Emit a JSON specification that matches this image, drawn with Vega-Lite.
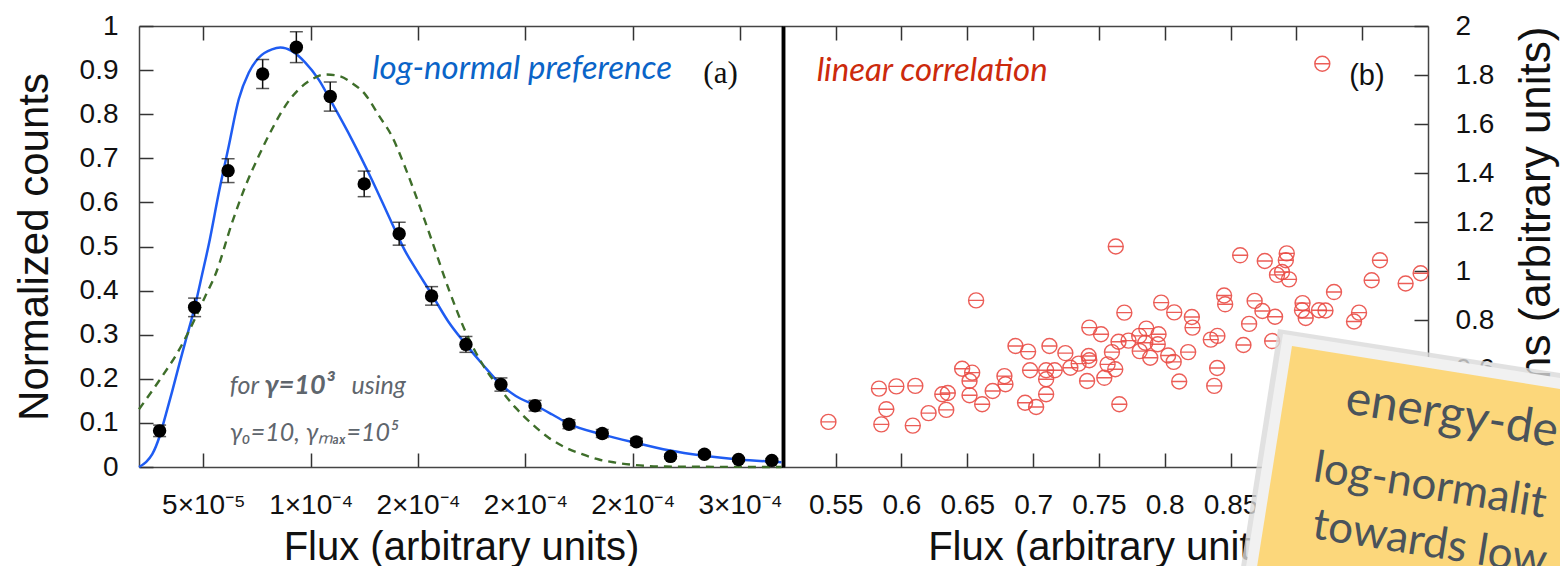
{
  "$schema": "https://vega.github.io/schema/vega-lite/v6.json",
  "background": "white",
  "padding": {"left": 13, "top": 12, "right": 0, "bottom": 0},
  "spacing": 0,
  "bounds": "flush",
  "config": {
    "view": {"stroke": null},
    "axis": {
      "grid": false,
      "labelFont": "Liberation Sans",
      "labelFontSize": 28,
      "labelColor": "#111111",
      "labelFlush": false,
      "labelOverlap": false,
      "titleFont": "Liberation Sans",
      "titleFontWeight": "normal",
      "titleColor": "#111111",
      "domainColor": "#444444",
      "domainWidth": 1.5,
      "tickColor": "#333333",
      "tickWidth": 1.5
    }
  },
  "datasets": {
    "blue": [
      {"x": 2.0e-5, "y": 0.0}, {"x": 2.325e-5, "y": 0.011}, {"x": 2.618e-5, "y": 0.029}, {"x": 2.976e-5, "y": 0.072},
      {"x": 3.255e-5, "y": 0.12}, {"x": 3.548e-5, "y": 0.172}, {"x": 3.859e-5, "y": 0.23}, {"x": 4.17e-5, "y": 0.286},
      {"x": 4.588e-5, "y": 0.361}, {"x": 4.942e-5, "y": 0.437}, {"x": 5.253e-5, "y": 0.505}, {"x": 5.718e-5, "y": 0.622},
      {"x": 6.182e-5, "y": 0.728}, {"x": 6.647e-5, "y": 0.834}, {"x": 7.112e-5, "y": 0.894}, {"x": 7.576e-5, "y": 0.928},
      {"x": 8.194e-5, "y": 0.947}, {"x": 8.585e-5, "y": 0.951}, {"x": 9.124e-5, "y": 0.943}, {"x": 9.747e-5, "y": 0.917},
      {"x": 1.0365e-4, "y": 0.879}, {"x": 1.0983e-4, "y": 0.826}, {"x": 1.1912e-4, "y": 0.743}, {"x": 1.2842e-4, "y": 0.652},
      {"x": 1.3771e-4, "y": 0.554}, {"x": 1.4394e-4, "y": 0.49}, {"x": 1.4858e-4, "y": 0.452}, {"x": 1.563e-4, "y": 0.392},
      {"x": 1.6406e-4, "y": 0.33}, {"x": 1.7228e-4, "y": 0.278}, {"x": 1.8e-4, "y": 0.233}, {"x": 1.8855e-4, "y": 0.187},
      {"x": 1.9552e-4, "y": 0.161}, {"x": 2.0449e-4, "y": 0.14}, {"x": 2.1253e-4, "y": 0.119}, {"x": 2.2029e-4, "y": 0.098},
      {"x": 2.3576e-4, "y": 0.074}, {"x": 2.5128e-4, "y": 0.055}, {"x": 2.6675e-4, "y": 0.038}, {"x": 2.8223e-4, "y": 0.026},
      {"x": 2.9928e-4, "y": 0.017}, {"x": 3.1927e-4, "y": 0.011}
    ],
    "green": [
      {"x": 2.0e-5, "y": 0.131}, {"x": 2.929e-5, "y": 0.195}, {"x": 3.859e-5, "y": 0.265}, {"x": 4.635e-5, "y": 0.339},
      {"x": 5.067e-5, "y": 0.385}, {"x": 5.564e-5, "y": 0.437}, {"x": 6.336e-5, "y": 0.554}, {"x": 6.958e-5, "y": 0.637},
      {"x": 7.576e-5, "y": 0.705}, {"x": 8.194e-5, "y": 0.766}, {"x": 8.817e-5, "y": 0.819}, {"x": 9.435e-5, "y": 0.856},
      {"x": 1.0053e-4, "y": 0.879}, {"x": 1.0676e-4, "y": 0.89}, {"x": 1.1294e-4, "y": 0.887}, {"x": 1.1912e-4, "y": 0.871},
      {"x": 1.2535e-4, "y": 0.845}, {"x": 1.3199e-4, "y": 0.795}, {"x": 1.3771e-4, "y": 0.751}, {"x": 1.4394e-4, "y": 0.68},
      {"x": 1.5012e-4, "y": 0.6}, {"x": 1.563e-4, "y": 0.515}, {"x": 1.6452e-4, "y": 0.4}, {"x": 1.7228e-4, "y": 0.305},
      {"x": 1.8e-4, "y": 0.233}, {"x": 1.8776e-4, "y": 0.18}, {"x": 1.9552e-4, "y": 0.134}, {"x": 2.0323e-4, "y": 0.097},
      {"x": 2.1099e-4, "y": 0.066}, {"x": 2.1875e-4, "y": 0.044}, {"x": 2.2646e-4, "y": 0.029}, {"x": 2.3422e-4, "y": 0.017},
      {"x": 2.4198e-4, "y": 0.01}, {"x": 2.4969e-4, "y": 0.005}, {"x": 2.6522e-4, "y": 0.001}, {"x": 3.1927e-4, "y": 0.0}
    ],
    "pts": [
      {"x": 2.96e-5, "y": 0.082, "lo": 0.069, "hi": 0.095},
      {"x": 4.59e-5, "y": 0.362, "lo": 0.341, "hi": 0.383},
      {"x": 6.15e-5, "y": 0.672, "lo": 0.645, "hi": 0.699},
      {"x": 7.76e-5, "y": 0.891, "lo": 0.858, "hi": 0.924},
      {"x": 9.33e-5, "y": 0.952, "lo": 0.917, "hi": 0.987},
      {"x": 1.091e-4, "y": 0.84, "lo": 0.807, "hi": 0.873},
      {"x": 1.249e-4, "y": 0.642, "lo": 0.613, "hi": 0.671},
      {"x": 1.412e-4, "y": 0.529, "lo": 0.503, "hi": 0.555},
      {"x": 1.563e-4, "y": 0.388, "lo": 0.367, "hi": 0.409},
      {"x": 1.723e-4, "y": 0.278, "lo": 0.26, "hi": 0.296},
      {"x": 1.886e-4, "y": 0.187, "lo": 0.172, "hi": 0.202},
      {"x": 2.045e-4, "y": 0.139, "lo": 0.127, "hi": 0.151},
      {"x": 2.203e-4, "y": 0.097, "lo": 0.087, "hi": 0.107},
      {"x": 2.358e-4, "y": 0.076, "lo": 0.067, "hi": 0.085},
      {"x": 2.517e-4, "y": 0.057, "lo": 0.049, "hi": 0.065},
      {"x": 2.676e-4, "y": 0.024, "lo": 0.019, "hi": 0.029},
      {"x": 2.834e-4, "y": 0.029, "lo": 0.023, "hi": 0.035},
      {"x": 2.993e-4, "y": 0.017, "lo": 0.013, "hi": 0.021},
      {"x": 3.148e-4, "y": 0.015, "lo": 0.011, "hi": 0.019}
    ],
    "scatter": [
      {"x": 0.5445, "y": 0.384}, {"x": 0.5829, "y": 0.52}, {"x": 0.5961, "y": 0.529}, {"x": 0.6105, "y": 0.531},
      {"x": 0.5885, "y": 0.436}, {"x": 0.5847, "y": 0.374}, {"x": 0.6086, "y": 0.369}, {"x": 0.6206, "y": 0.42},
      {"x": 0.631, "y": 0.497}, {"x": 0.6352, "y": 0.502}, {"x": 0.634, "y": 0.433}, {"x": 0.6461, "y": 0.601},
      {"x": 0.6537, "y": 0.585}, {"x": 0.6517, "y": 0.551}, {"x": 0.6517, "y": 0.493}, {"x": 0.6613, "y": 0.456},
      {"x": 0.6567, "y": 0.88}, {"x": 0.6693, "y": 0.51}, {"x": 0.6782, "y": 0.571}, {"x": 0.679, "y": 0.538},
      {"x": 0.6866, "y": 0.694}, {"x": 0.6962, "y": 0.671}, {"x": 0.6977, "y": 0.595}, {"x": 0.6939, "y": 0.462},
      {"x": 0.7023, "y": 0.445}, {"x": 0.7124, "y": 0.694}, {"x": 0.7099, "y": 0.595}, {"x": 0.7099, "y": 0.558},
      {"x": 0.7099, "y": 0.497}, {"x": 0.7164, "y": 0.595}, {"x": 0.7245, "y": 0.665}, {"x": 0.7283, "y": 0.605},
      {"x": 0.7346, "y": 0.622}, {"x": 0.741, "y": 0.551}, {"x": 0.7427, "y": 0.769}, {"x": 0.7422, "y": 0.653},
      {"x": 0.7427, "y": 0.636}, {"x": 0.7516, "y": 0.742}, {"x": 0.7599, "y": 0.669}, {"x": 0.7566, "y": 0.619},
      {"x": 0.7541, "y": 0.564}, {"x": 0.7624, "y": 0.599}, {"x": 0.7655, "y": 0.456}, {"x": 0.7693, "y": 0.83},
      {"x": 0.7649, "y": 0.711}, {"x": 0.7725, "y": 0.716}, {"x": 0.7806, "y": 0.735}, {"x": 0.781, "y": 0.673},
      {"x": 0.786, "y": 0.765}, {"x": 0.7852, "y": 0.707}, {"x": 0.789, "y": 0.646}, {"x": 0.7953, "y": 0.742},
      {"x": 0.7947, "y": 0.701}, {"x": 0.7973, "y": 0.871}, {"x": 0.8026, "y": 0.655}, {"x": 0.8072, "y": 0.831},
      {"x": 0.8068, "y": 0.629}, {"x": 0.811, "y": 0.549}, {"x": 0.7628, "y": 1.1}, {"x": 0.8178, "y": 0.669},
      {"x": 0.8206, "y": 0.812}, {"x": 0.8211, "y": 0.769}, {"x": 0.835, "y": 0.72}, {"x": 0.84, "y": 0.735},
      {"x": 0.8376, "y": 0.531}, {"x": 0.8398, "y": 0.604}, {"x": 0.8451, "y": 0.9}, {"x": 0.8459, "y": 0.864},
      {"x": 0.8573, "y": 1.064}, {"x": 0.8598, "y": 0.698}, {"x": 0.8641, "y": 0.784}, {"x": 0.8683, "y": 0.878},
      {"x": 0.8742, "y": 0.837}, {"x": 0.876, "y": 1.041}, {"x": 0.8816, "y": 0.714}, {"x": 0.8838, "y": 0.813},
      {"x": 0.8853, "y": 0.984}, {"x": 0.8891, "y": 0.996}, {"x": 0.892, "y": 1.044}, {"x": 0.8927, "y": 1.072},
      {"x": 0.8944, "y": 0.966}, {"x": 0.9047, "y": 0.869}, {"x": 0.9043, "y": 0.84}, {"x": 0.9071, "y": 0.808},
      {"x": 0.9172, "y": 0.84}, {"x": 0.9221, "y": 0.839}, {"x": 0.9286, "y": 0.914}, {"x": 0.9438, "y": 0.794},
      {"x": 0.9476, "y": 0.83}, {"x": 0.9572, "y": 0.962}, {"x": 0.9635, "y": 1.044}, {"x": 0.983, "y": 0.949},
      {"x": 0.9944, "y": 0.991}, {"x": 0.9197, "y": 1.846}
    ]
  },
  "hconcat": [
    {
      "width": 644,
      "height": 441,
      "resolve": {"axis": {"x": "independent", "y": "independent"}},
      "layer": [
        {
          "data": {"name": "blue"},
          "mark": {"type": "line", "color": "#1f5cf2", "strokeWidth": 2.5, "interpolate": "monotone"},
          "encoding": {
            "x": {"field": "x", "type": "quantitative", "scale": {"domain": [2e-5, 3.2e-4], "nice": false, "zero": false},
              "axis": {"orient": "bottom", "values": [5e-5, 1e-4, 1.5e-4, 2e-4, 2.5e-4, 3e-4],
                "labelExpr": "datum.value < 7e-5 ? '5×10⁻⁵' : datum.value < 1.2e-4 ? '1×10⁻⁴' : datum.value < 2.7e-4 ? '2×10⁻⁴' : '3×10⁻⁴'",
                "tickSize": -14, "labelPadding": 38, "title": "Flux (arbitrary units)", "titleFontSize": 40, "titlePadding": 8}},
            "y": {"field": "y", "type": "quantitative", "scale": {"domain": [0, 1], "nice": false, "zero": false},
              "axis": {"orient": "left", "values": [0, 0.1, 0.2, 0.3, 0.4, 0.5, 0.6, 0.7, 0.8, 0.9, 1], "format": "~g",
                "tickSize": -14, "labelPadding": 35, "title": "Normalized counts", "titleFontSize": 42, "titlePadding": 23}}
          }
        },
        {
          "data": {"name": "green"},
          "mark": {"type": "line", "color": "#3e6e2a", "strokeWidth": 2.4, "strokeDash": [8, 6], "interpolate": "monotone"},
          "encoding": {
            "x": {"field": "x", "type": "quantitative", "scale": {"domain": [2e-5, 3.2e-4], "nice": false, "zero": false}, "axis": null},
            "y": {"field": "y", "type": "quantitative", "scale": {"domain": [0, 1], "nice": false, "zero": false}, "axis": null}
          }
        },
        {
          "data": {"name": "pts"},
          "mark": {"type": "errorbar", "ticks": {"size": 13, "color": "#111111", "thickness": 1.5}, "rule": {"color": "#111111", "strokeWidth": 1.5}},
          "encoding": {
            "x": {"field": "x", "type": "quantitative", "scale": {"domain": [2e-5, 3.2e-4], "nice": false, "zero": false}, "axis": null},
            "y": {"field": "lo", "type": "quantitative", "scale": {"domain": [0, 1], "nice": false, "zero": false}, "axis": null},
            "y2": {"field": "hi"}
          }
        },
        {
          "data": {"name": "pts"},
          "mark": {"type": "point", "filled": true, "color": "#000000", "size": 180, "opacity": 1},
          "encoding": {
            "x": {"field": "x", "type": "quantitative", "scale": {"domain": [2e-5, 3.2e-4], "nice": false, "zero": false}, "axis": null},
            "y": {"field": "y", "type": "quantitative", "scale": {"domain": [0, 1], "nice": false, "zero": false}, "axis": null}
          }
        },
        {
          "data": {"values": [{"x": 1.9845e-4, "y": 0.9025, "t": "log-normal preference"}]},
          "mark": {"type": "text", "font": "Lato", "fontStyle": "italic", "fontSize": 33, "color": "#0a64c8", "align": "center", "baseline": "middle"},
          "encoding": {
            "x": {"field": "x", "type": "quantitative", "scale": {"domain": [2e-5, 3.2e-4], "nice": false, "zero": false},
              "axis": {"orient": "top", "values": [5e-5, 1e-4, 1.5e-4, 2e-4, 2.5e-4, 3e-4], "labels": false, "tickSize": -14, "title": null}},
            "y": {"field": "y", "type": "quantitative", "scale": {"domain": [0, 1], "nice": false, "zero": false},
              "axis": {"orient": "right", "ticks": false, "labels": false, "title": null, "domainColor": "#000000", "domainWidth": 3.5}},
            "text": {"field": "t"}
          }
        },
        {
          "data": {"values": [{"x": 2.909e-4, "y": 0.891, "t": "(a)"}]},
          "mark": {"type": "text", "font": "Liberation Serif", "fontSize": 31, "color": "#111111", "align": "center", "baseline": "middle"},
          "encoding": {
            "x": {"field": "x", "type": "quantitative", "scale": {"domain": [2e-5, 3.2e-4], "nice": false, "zero": false}, "axis": null},
            "y": {"field": "y", "type": "quantitative", "scale": {"domain": [0, 1], "nice": false, "zero": false}, "axis": null},
            "text": {"field": "t"}
          }
        },
        {
          "data": {"values": [
            {"x": 6.23e-5, "y": 0.184, "t": "for"},
            {"x": 1.19e-4, "y": 0.184, "t": "using"},
            {"x": 6.23e-5, "y": 0.077, "t": "γ₀=10, γₘₐₓ=10⁵"}
          ]},
          "mark": {"type": "text", "font": "Lato", "fontStyle": "italic", "fontSize": 25, "color": "#5f666d", "align": "left", "baseline": "middle"},
          "encoding": {
            "x": {"field": "x", "type": "quantitative", "scale": {"domain": [2e-5, 3.2e-4], "nice": false, "zero": false}, "axis": null},
            "y": {"field": "y", "type": "quantitative", "scale": {"domain": [0, 1], "nice": false, "zero": false}, "axis": null},
            "text": {"field": "t"}
          }
        },
        {
          "data": {"values": [{"x": 7.85e-5, "y": 0.184, "t": "γ=10³"}]},
          "mark": {"type": "text", "font": "Lato", "fontStyle": "italic", "fontWeight": "bold", "fontSize": 27, "color": "#5f666d", "align": "left", "baseline": "middle"},
          "encoding": {
            "x": {"field": "x", "type": "quantitative", "scale": {"domain": [2e-5, 3.2e-4], "nice": false, "zero": false}, "axis": null},
            "y": {"field": "y", "type": "quantitative", "scale": {"domain": [0, 1], "nice": false, "zero": false}, "axis": null},
            "text": {"field": "t"}
          }
        }
      ]
    },
    {
      "width": 645,
      "height": 441,
      "resolve": {"axis": {"x": "independent", "y": "independent"}},
      "layer": [
        {
          "data": {"name": "scatter"},
          "mark": {"type": "point", "shape": "M-1,0A1,1,0,1,1,1,0A1,1,0,1,1,-1,0M-1,0L1,0", "size": 225, "filled": false, "color": "#ea4c45", "strokeWidth": 1.4, "opacity": 0.9},
          "encoding": {
            "x": {"field": "x", "type": "quantitative", "scale": {"domain": [0.51, 1.0], "nice": false, "zero": false},
              "axis": {"orient": "bottom", "values": [0.55, 0.6, 0.65, 0.7, 0.75, 0.8, 0.85, 0.9, 0.95], "format": "~g",
                "tickSize": -14, "labelPadding": 38, "title": "Flux (arbitrary units)", "titleFontSize": 40, "titlePadding": 8}},
            "y": {"field": "y", "type": "quantitative", "scale": {"domain": [0.2, 2], "nice": false, "zero": false},
              "axis": {"orient": "right", "values": [0.2, 0.4, 0.6, 0.8, 1, 1.2, 1.4, 1.6, 1.8, 2], "format": "~g",
                "tickSize": -14, "labelPadding": 41, "title": "rms (arbitrary units)", "titleFontSize": 44, "titlePadding": 21,
                "titleAngle": 270, "titleBaseline": "top", "titleAnchor": "end", "titleAlign": "right"}}
          }
        },
        {
          "data": {"values": [{"x": 0.5356, "y": 1.816, "t": "linear correlation"}]},
          "mark": {"type": "text", "font": "Lato", "fontStyle": "italic", "fontSize": 33, "color": "#cc2a0c", "align": "left", "baseline": "middle"},
          "encoding": {
            "x": {"field": "x", "type": "quantitative", "scale": {"domain": [0.51, 1.0], "nice": false, "zero": false},
              "axis": {"orient": "top", "values": [0.55, 0.6, 0.65, 0.7, 0.75, 0.8, 0.85, 0.9, 0.95], "labels": false, "tickSize": -14, "title": null}},
            "y": {"field": "y", "type": "quantitative", "scale": {"domain": [0.2, 2], "nice": false, "zero": false},
              "axis": {"orient": "left", "ticks": false, "labels": false, "title": null, "domainColor": "#000000", "domainWidth": 3.5}},
            "text": {"field": "t"}
          }
        },
        {
          "data": {"values": [{"x": 0.9536, "y": 1.796, "t": "(b)"}]},
          "mark": {"type": "text", "font": "Liberation Sans", "fontSize": 29, "color": "#111111", "align": "center", "baseline": "middle"},
          "encoding": {
            "x": {"field": "x", "type": "quantitative", "scale": {"domain": [0.51, 1.0], "nice": false, "zero": false}, "axis": null},
            "y": {"field": "y", "type": "quantitative", "scale": {"domain": [0.2, 2], "nice": false, "zero": false}, "axis": null},
            "text": {"field": "t"}
          }
        },
        {
          "data": {"values": [{"x": 1.0, "y": 0.4}]},
          "mark": {"type": "point", "shape": "M-1.50,-0.89L1.32,-0.45L1.32,1.49L-1.87,1.49Z", "size": 40000, "filled": true, "color": "#dadada", "opacity": 0.8, "strokeWidth": 0},
          "encoding": {
            "x": {"field": "x", "type": "quantitative", "scale": {"domain": [0.51, 1.0], "nice": false, "zero": false}, "axis": null},
            "y": {"field": "y", "type": "quantitative", "scale": {"domain": [0.2, 2], "nice": false, "zero": false}, "axis": null}
          }
        },
        {
          "data": {"values": [{"x": 1.0, "y": 0.4}]},
          "mark": {"type": "point", "shape": "M-1.45,-0.84L1.32,-0.40L1.32,1.49L-1.82,1.49Z", "size": 40000, "filled": true, "color": "#f1f1f1", "opacity": 1, "strokeWidth": 0},
          "encoding": {
            "x": {"field": "x", "type": "quantitative", "scale": {"domain": [0.51, 1.0], "nice": false, "zero": false}, "axis": null},
            "y": {"field": "y", "type": "quantitative", "scale": {"domain": [0.2, 2], "nice": false, "zero": false}, "axis": null}
          }
        },
        {
          "data": {"values": [{"x": 1.0, "y": 0.4}]},
          "mark": {"type": "point", "shape": "M-1.36,-0.72L1.32,-0.29L1.32,1.49L-1.71,1.49Z", "size": 40000, "filled": true, "color": "#fcd77b", "opacity": 1, "strokeWidth": 0},
          "encoding": {
            "x": {"field": "x", "type": "quantitative", "scale": {"domain": [0.51, 1.0], "nice": false, "zero": false}, "axis": null},
            "y": {"field": "y", "type": "quantitative", "scale": {"domain": [0.2, 2], "nice": false, "zero": false}, "axis": null}
          }
        },
        {
          "data": {"values": [{"x": 0.9362, "y": 0.42, "t": "energy-dep"}]},
          "mark": {"type": "text", "font": "Lato", "fontSize": 48, "color": "#4a535b", "align": "left", "baseline": "alphabetic", "angle": 9, "limit": 220, "ellipsis": "\u200b"},
          "encoding": {
            "x": {"field": "x", "type": "quantitative", "scale": {"domain": [0.51, 1.0], "nice": false, "zero": false}, "axis": null},
            "y": {"field": "y", "type": "quantitative", "scale": {"domain": [0.2, 2], "nice": false, "zero": false}, "axis": null},
            "text": {"field": "t"}
          }
        },
        {
          "data": {"values": [
            {"x": 0.9119, "y": 0.143, "t": "log-normality"},
            {"x": 0.9112, "y": -0.09, "t": "towards lower"}
          ]},
          "mark": {"type": "text", "font": "Lato", "fontSize": 44, "color": "#4a535b", "align": "left", "baseline": "alphabetic", "angle": 9, "limit": 252, "ellipsis": "\u200b"},
          "encoding": {
            "x": {"field": "x", "type": "quantitative", "scale": {"domain": [0.51, 1.0], "nice": false, "zero": false}, "axis": null},
            "y": {"field": "y", "type": "quantitative", "scale": {"domain": [0.2, 2], "nice": false, "zero": false}, "axis": null},
            "text": {"field": "t"}
          }
        }
      ]
    }
  ]
}
